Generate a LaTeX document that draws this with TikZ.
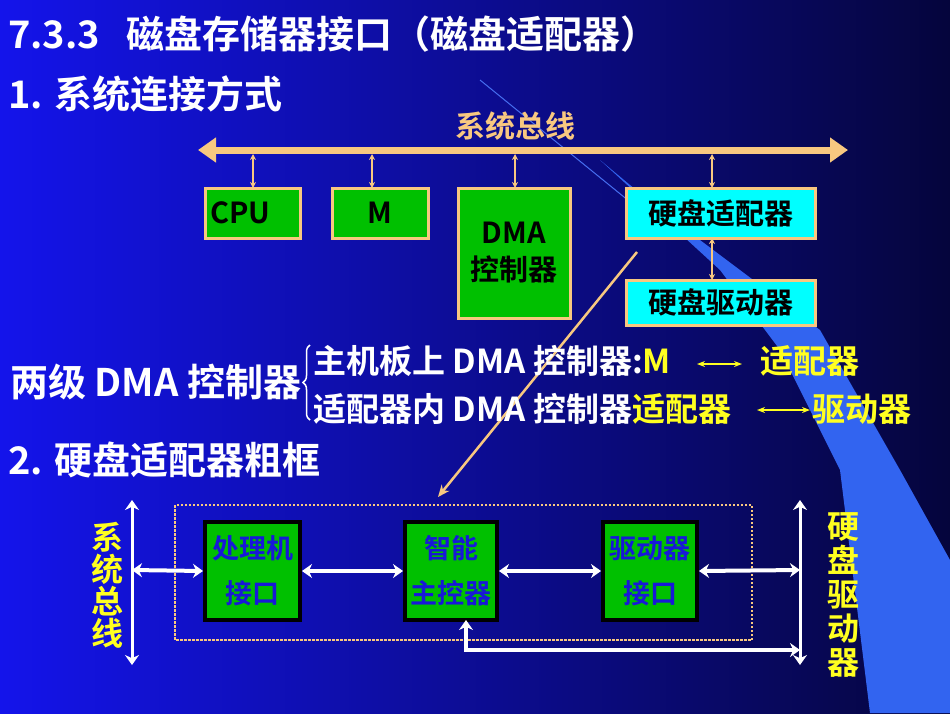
\documentclass[tikz,border=0pt]{standalone}
\usepackage{fontspec}
\setmainfont{Noto Sans CJK SC Bold}
\usetikzlibrary{arrows.meta,decorations.pathreplacing}
\definecolor{tan}{HTML}{F8C880}
\definecolor{gfill}{HTML}{00C000}
\definecolor{cy}{HTML}{00FFFF}
\definecolor{yl}{HTML}{FFFF20}
\definecolor{bt}{HTML}{1818D8}
\definecolor{bgl}{RGB}{20,20,235}
\definecolor{bgr}{RGB}{5,5,60}
\definecolor{band}{RGB}{50,100,240}
\definecolor{bandl}{RGB}{70,110,240}
\begin{document}
\begin{tikzpicture}[x=1pt,y=-1pt,
  topbox/.style={draw=tan,line width=3pt,fill=gfill,inner sep=0pt,font=\fontsize{29}{31}\selectfont},
  botbox/.style={draw=black,line width=4pt,fill=gfill,inner sep=0pt,text=bt,font=\fontsize{27}{29}\selectfont,align=center},
  tanarr/.style={tan,line width=1.5pt,{Stealth[length=6pt,width=6pt]}-{Stealth[length=6pt,width=6pt]}},
  wharr/.style={white,line width=4pt,{Stealth[length=10pt,width=14pt]}-{Stealth[length=10pt,width=14pt]}},
  wt/.style={text=white,anchor=base west,inner sep=0pt,font=\fontsize{38}{40}\selectfont},
  lab/.style={anchor=base west,inner sep=0pt,font=\fontsize{33}{35}\selectfont}]
\useasboundingbox (0,0) rectangle (950,713);
\shade[left color=bgl, right color=bgr] (0,0) rectangle (950,713);
\fill[band] (600,160) -- (720,270) -- (780,350) -- (840,470) -- (870,713) -- (950,713) -- (950,560) -- (900,470) -- (820,330) -- (660,210) -- cycle;
\draw[bandl,line width=1pt] (480,80) -- (640,210);
% titles
\node[wt] (t1) at (8,48) {7.3.3\ \ \ 磁盘存储器接口（磁盘适配器）};
\node[wt] (t2) at (8,108) {1. 系统连接方式};
\node[text=tan,font=\fontsize{30}{32}\selectfont] (bl) at (515,126) {系统总线};
% bus
\coordinate (bL) at (198,150); \coordinate (bR) at (848,150);
\draw[tan,line width=7pt,{Triangle[length=18pt,width=24pt]}-{Triangle[length=18pt,width=24pt]}] (bL) -- (bR);
\node[topbox,minimum width=95pt,minimum height=50pt,text width=85pt,align=left] (cpu) at (252.5,213) {CPU};
\node[topbox,minimum width=96pt,minimum height=50pt] (m) at (380,213) {M};
\node[topbox,minimum width=112pt,minimum height=130pt,align=center,text width=100pt] (dma) at (514,253) {DMA\\[6pt]控制器};
\node[topbox,fill=cy,minimum width=189pt,minimum height=50pt] (ad) at (720.5,213) {硬盘适配器};
\node[topbox,fill=cy,minimum width=189pt,minimum height=45pt] (dr) at (720.5,302.5) {硬盘驱动器};
\foreach \n/\x in {cpu/253,m/372,dma/515,ad/712}
  \draw[tanarr] (\x,154) -- (\x,188);
\draw[tanarr] (712,238) -- (712,280);
\coordinate (o1) at (637,252);
\coordinate (o2) at (438,497);
\draw[tan,line width=2.5pt,-{Stealth[length=12pt,width=10pt]}] (o1) -- (o2);
% two-level DMA
\node[wt] (lv) at (10,396) {两级 DMA 控制器};
\draw[white,line width=1.5pt,decorate,decoration={brace,amplitude=7pt}] (310,420) -- (310,345);
\node[lab,text=white] (l1) at (313,373) {主机板上 DMA 控制器:\textcolor{yl}{M}};
\draw[yl,line width=2pt,{Stealth[length=8pt]}-{Stealth[length=8pt]}] (697,364) -- (742,364);
\node[lab,text=yl] (l1b) at (760,373) {适配器};
\node[lab,text=white] (l2) at (313,421) {适配器内 DMA 控制器\textcolor{yl}{适配器}};
\draw[yl,line width=2pt,{Stealth[length=8pt]}-{Stealth[length=8pt]}] (757,410) -- (810,410);
\node[lab,text=yl] (l2b) at (812,421) {驱动器};
\node[wt] (t3) at (8,474) {2. 硬盘适配器粗框};
% bottom diagram
\draw[tan,line width=2.5pt,dash pattern=on 2.5pt off 1.5pt] (175,505) rectangle (752,640);
\node[botbox,minimum width=95pt,minimum height=98pt] (p) at (252.5,571) {处理机\\[16pt]接口};
\node[botbox,minimum width=92pt,minimum height=98pt] (c) at (451,571) {智能\\[16pt]主控器};
\node[botbox,minimum width=94pt,minimum height=98pt] (d) at (650,571) {驱动器\\[16pt]接口};
\coordinate (L1) at (132,500); \coordinate (L2) at (132,665);
\coordinate (R1) at (800,500); \coordinate (R2) at (800,665);
\draw[wharr,line width=3pt] (L1) -- (L2);
\draw[wharr,line width=3pt] (R1) -- (R2);
\draw[wharr] (132,570) -- (p.west);
\draw[wharr] (p.east) -- (c.west);
\draw[wharr] (c.east) -- (d.west);
\draw[wharr] (d.east) -- (800,570);
\draw[wharr,line width=3.5pt] (466,620) -- (466,650) -- (800,650);
\node[text=yl,align=center,font=\fontsize{32}{32}\selectfont] (vl) at (107,585) {系\\统\\总\\线};
\node[text=yl,align=center,font=\fontsize{32}{34}\selectfont] (vr) at (843,595) {硬\\盘\\驱\\动\\器};
\end{tikzpicture}
\end{document}
